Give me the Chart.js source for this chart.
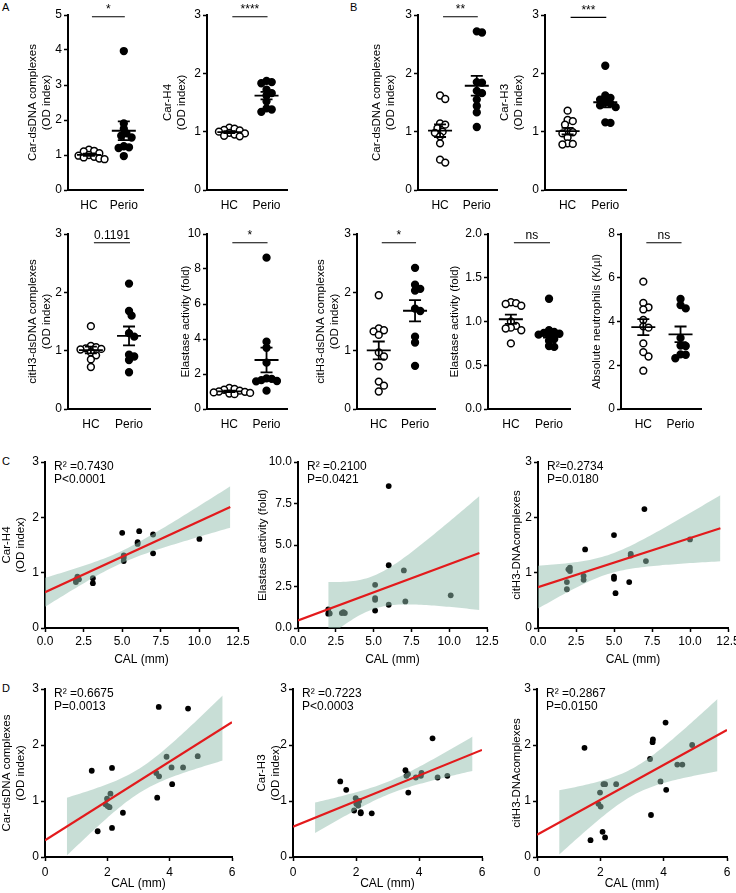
<!DOCTYPE html>
<html lang="en">
<head>
<meta charset="UTF-8">
<title>NET markers in periodontitis</title>
<script src="https://cdn.jsdelivr.net/npm/chart.js@4.4.0/dist/chart.umd.min.js"></script>
<style>
    body { margin: 0; background: #fff; font-family: "Liberation Sans", Arial, sans-serif; }
    #fig { position: relative; width: 736px; height: 893px; overflow: hidden; }
    .tag { position: absolute; font-size: 11px; color: #000; }
</style>
</head>
<body>
<div id="fig">
    <div class="tag" style="left:2px;top:1px">A</div>
    <div class="tag" style="left:350px;top:1px">B</div>
    <div class="tag" style="left:2px;top:455px">C</div>
    <div class="tag" style="left:2px;top:682px">D</div>
</div>
<script>
// ---- data ----
const groupLabels = ['HC', 'Perio'];

// A / B, top row
const aDsdnaHC    = [1.15, 1.12, 1.10, 1.05, 1.00, 0.98, 0.95, 0.93, 0.90, 0.88];
const aDsdnaPerio = [3.97, 1.90, 1.75, 1.62, 1.55, 1.50, 1.25, 1.22, 1.20, 0.97];
const aH4HC       = [1.07, 1.05, 1.03, 1.02, 1.00, 0.98, 0.97, 0.95, 0.93, 0.92];
const aH4Perio    = [1.87, 1.85, 1.83, 1.72, 1.66, 1.62, 1.52, 1.40, 1.38, 1.34];
const bDsdnaHC    = [1.62, 1.56, 1.14, 1.12, 1.06, 1.00, 0.98, 0.92, 0.80, 0.52, 0.47];
const bDsdnaPerio = [2.72, 2.70, 1.85, 1.84, 1.70, 1.66, 1.55, 1.44, 1.33, 1.08];
const bH3HC       = [1.36, 1.20, 1.18, 1.12, 1.00, 0.99, 0.97, 0.90, 0.80, 0.79, 0.78];
const bH3Perio    = [2.13, 1.62, 1.58, 1.55, 1.50, 1.48, 1.45, 1.42, 1.16, 1.15];

// A / B, second row
const aCitH3HC    = [1.42, 1.08, 1.06, 1.04, 1.03, 1.02, 0.97, 0.92, 0.85, 0.72];
const aCitH3Perio = [2.15, 1.68, 1.60, 1.30, 1.24, 0.93, 0.90, 0.84, 0.63];
const aElastHC    = [1.20, 1.15, 1.10, 1.05, 1.00, 0.98, 0.95, 0.92, 0.88, 0.85];
const aElastPerio = [8.65, 3.85, 3.50, 2.65, 1.75, 1.72, 1.65, 1.60, 1.58, 1.05];
const bCitH3HC    = [1.95, 1.38, 1.35, 1.33, 1.27, 0.97, 0.90, 0.73, 0.47, 0.40, 0.30];
const bCitH3Perio = [2.42, 2.13, 2.06, 2.03, 1.72, 1.68, 1.24, 1.14, 0.74];
const bElastHC    = [1.22, 1.21, 1.20, 1.18, 1.00, 0.95, 0.93, 0.92, 0.90, 0.75];
const bElastPerio = [1.26, 0.90, 0.88, 0.87, 0.86, 0.85, 0.84, 0.80, 0.78, 0.72, 0.71];
const bNeutHC     = [5.82, 4.85, 4.65, 4.55, 4.07, 3.78, 3.72, 3.00, 2.60, 2.40, 1.75];
const bNeutPerio  = [5.03, 4.75, 4.60, 3.25, 2.90, 2.88, 2.50, 2.48, 2.32];

// C: correlations with CAL
const calC1   = [5.0, 6.1, 7.0, 6.0, 6.0, 7.0, 10.0, 5.1, 5.1, 5.1, 2.1, 2.0, 2.0, 2.2, 3.1, 3.1];
const carH4C1 = [1.72, 1.75, 1.69, 1.55, 1.52, 1.35, 1.61, 1.31, 1.27, 1.21, 0.93, 0.87, 0.83, 0.88, 0.90, 0.81];
const calC2   = [6.0, 6.0, 7.0, 5.1, 5.1, 5.1, 5.1, 6.0, 7.1, 10.1, 2.0, 2.0, 2.1, 2.9, 3.1, 3.0];
const elastC2 = [8.55, 3.78, 3.47, 2.60, 1.80, 1.70, 1.05, 1.40, 1.60, 1.97, 1.12, 0.86, 0.88, 0.90, 0.90, 0.95];
const calC3   = [7.0, 5.0, 3.1, 6.1, 6.1, 7.1, 10.0, 5.0, 5.0, 6.0, 5.1, 2.1, 2.0, 2.1, 1.9, 1.9, 3.0, 3.0];
const citH3C3 = [2.15, 1.68, 1.42, 1.34, 1.31, 1.21, 1.60, 0.93, 0.89, 0.83, 0.63, 1.09, 1.06, 1.03, 0.83, 0.70, 0.94, 0.87];

// D: correlations with CAL
const calD    = [3.65, 4.59, 1.50, 2.15, 3.90, 4.90, 3.57, 3.66, 4.06, 4.43, 4.08, 3.60, 2.10, 1.99, 1.94, 2.01, 2.07, 2.50, 2.15, 1.69];
const dsdnaD1 = [2.68, 2.65, 1.54, 1.59, 1.79, 1.80, 1.50, 1.44, 1.60, 1.60, 1.30, 1.06, 1.13, 1.04, 0.94, 0.91, 0.89, 0.79, 0.52, 0.46];
const carH3D2 = [1.48, 1.42, 1.35, 0.78, 1.42, 1.45, 1.55, 1.15, 1.45, 2.12, 1.50, 1.45, 1.00, 1.05, 0.83, 0.95, 0.92, 0.78, 0.80, 1.20];
const citH3D3 = [2.05, 1.65, 1.95, 1.30, 1.35, 2.00, 1.75, 2.10, 2.40, 1.65, 1.20, 0.75, 1.30, 1.15, 0.95, 0.90, 0.45, 1.30, 0.35, 0.30];

const calTicksC = [0, 12.5, 2.5];
const calTicksD = [0, 6, 2];
const lineSpanC = [0, 12];
const lineSpanD = [0, 6];

Chart.defaults.font.family = '"Liberation Sans", Arial, sans-serif';
Chart.defaults.color = '#000';

function addCanvas(left, top, width, height) {
    const c = document.createElement('canvas');
    c.width = width;
    c.height = height;
    c.style.cssText = `position:absolute;left:${left}px;top:${top}px;width:${width}px;height:${height}px`;
    document.getElementById('fig').appendChild(c);
    return c;
}

const mean = a => a.reduce((s, v) => s + v, 0) / a.length;

// loose beeswarm: points may touch a little, like the original scatter-dot plots
function swarm(vals, centre, pxY, pxX) {
    const placed = [];
    const xs = new Array(vals.length);
    const idx = vals.map((v, i) => i).sort((a, b) => vals[b] - vals[a]);
    idx.forEach(i => {
        const y = vals[i] * pxY;
        for (let k = 0; k < 40; k++) {
            const off = (k % 2 ? 1 : -1) * Math.ceil(k / 2) * 2.6;
            if (placed.every(p => Math.hypot(p[0] - off, p[1] - y) >= 5.2)) {
                placed.push([off, y]);
                xs[i] = centre + off / pxX;
                break;
            }
        }
    });
    return xs;
}

const meanSemPlugin = {
    id: 'meanSem',
    afterDatasetsDraw(chart, args, opts) {
        const {ctx, scales: {x, y}} = chart;
        ctx.save();
        ctx.strokeStyle = '#000';
        ctx.lineWidth = 1.8;
        opts.groups.forEach((vals, i) => {
            const n = vals.length;
            const m = mean(vals);
            const sem = Math.sqrt(vals.reduce((s, v) => s + (v - m) ** 2, 0) / (n - 1)) / Math.sqrt(n);
            const cx = x.getPixelForValue(i + 1);
            const ym = y.getPixelForValue(m);
            const yt = y.getPixelForValue(m + sem);
            const yb = y.getPixelForValue(m - sem);
            ctx.beginPath();
            ctx.moveTo(cx - 12, ym); ctx.lineTo(cx + 12, ym);
            ctx.moveTo(cx, yt); ctx.lineTo(cx, yb);
            ctx.moveTo(cx - 6, yt); ctx.lineTo(cx + 6, yt);
            ctx.moveTo(cx - 6, yb); ctx.lineTo(cx + 6, yb);
            ctx.stroke();
        });
        // significance bar
        const by = y.getPixelForValue(opts.sigY);
        const x1 = x.getPixelForValue(1) + 3, x2 = x.getPixelForValue(2) + 1;
        ctx.lineWidth = 1.2;
        ctx.beginPath();
        ctx.moveTo(x1, by); ctx.lineTo(x2, by);
        ctx.stroke();
        ctx.fillStyle = '#000';
        ctx.font = '12px "Liberation Sans", Arial, sans-serif';
        ctx.textAlign = 'center';
        ctx.textBaseline = 'bottom';
        ctx.fillText(opts.sig, (x1 + x2) / 2, by - 1);
        ctx.restore();
    }
};

const statsPlugin = {
    id: 'stats',
    afterDraw(chart, args, opts) {
        const {ctx, chartArea} = chart;
        ctx.save();
        ctx.fillStyle = '#000';
        ctx.font = '12px "Liberation Sans", Arial, sans-serif';
        ctx.textAlign = 'left';
        ctx.textBaseline = 'middle';
        opts.lines.forEach((t, i) => ctx.fillText(t, chartArea.left + 9, chartArea.top + 5 + i * 13));
        ctx.restore();
    }
};

function yTitle(text) {
    return {display: true, text: text, font: {size: 11.5, lineHeight: 1.22}, padding: {top: 0, bottom: 0}};
}

function dotPanel(p) {
    const topPad = p.top < 100 ? 15 : 14;
    const bottom = 26, right = 6;
    const cl = p.tx - 7;
    const leftW = p.axis - cl;
    const canvas = addCanvas(cl, p.top - topPad, leftW + p.w + right, topPad + p.h + bottom);
    const xMin = 0.4, xMax = 2.55;
    const pxY = p.h / p.ymax, pxX = p.w / (xMax - xMin);
    const datasets = [p.hc, p.perio].map((vals, g) => {
        const xs = swarm(vals, g + 1, pxY, pxX);
        return {
            data: vals.map((v, i) => ({x: xs[i], y: v})),
            pointRadius: 3.4,
            pointBorderWidth: 1.5,
            pointBorderColor: '#000',
            pointBackgroundColor: g ? '#000' : '#fff',
            clip: false
        };
    });
    new Chart(canvas, {
        type: 'scatter',
        data: {datasets: datasets},
        options: {
            responsive: false, animation: false, devicePixelRatio: 1,
            layout: {padding: {top: topPad, right: right, left: 0, bottom: 0}},
            plugins: {
                legend: {display: false}, tooltip: {enabled: false},
                meanSem: {groups: [p.hc, p.perio], sig: p.sig, sigY: p.sigY}
            },
            scales: {
                x: {
                    type: 'linear', min: xMin, max: xMax,
                    afterBuildTicks: s => { s.ticks = [{value: 1}, {value: 2}]; },
                    afterFit: s => { s.height = bottom; },
                    ticks: {callback: v => groupLabels[Math.round(v) - 1], padding: 8, font: {size: 12}},
                    grid: {display: false, drawTicks: false},
                    border: {color: '#000', width: 2}
                },
                y: {
                    min: 0, max: p.ymax,
                    afterFit: s => { s.width = leftW; },
                    ticks: {stepSize: p.step, padding: 2, font: {size: 12},
                            callback: v => p.step < 1 ? v.toFixed(1) : v},
                    grid: {drawOnChartArea: false, tickLength: 4, tickColor: '#000', tickWidth: 1.5},
                    border: {color: '#000', width: 2},
                    title: yTitle(p.title)
                }
            }
        },
        plugins: [meanSemPlugin]
    });
}

function fit(xs, ys) {
    const n = xs.length, mx = mean(xs), my = mean(ys);
    let sxx = 0, sxy = 0;
    xs.forEach((x, i) => { sxx += (x - mx) ** 2; sxy += (x - mx) * (ys[i] - my); });
    const b = sxy / sxx, a = my - b * mx;
    let sse = 0;
    xs.forEach((x, i) => { sse += (ys[i] - a - b * x) ** 2; });
    const s = Math.sqrt(sse / (n - 2));
    const df = n - 2;
    const t = 1.96 + 2.5 / df + 3 / (df * df);
    return {at: x => a + b * x, half: x => t * s * Math.sqrt(1 / n + (x - mx) ** 2 / sxx)};
}

function corrPanel(p) {
    const topPad = 10, right = 14;
    const cl = p.tx - 7;
    const leftW = p.axis - cl;
    const canvas = addCanvas(cl, p.top - topPad, leftW + p.w + right, topPad + p.h + p.bottom);
    const f = fit(p.xs, p.ys);
    const bx = [];
    for (let i = 0; i <= 60; i++) bx.push(p.band[0] + (p.band[1] - p.band[0]) * i / 60);
    new Chart(canvas, {
        type: 'scatter',
        data: {datasets: [
            {type: 'line', data: p.line.map(x => ({x: x, y: f.at(x)})), borderColor: '#e31a1c',
             borderWidth: 2.2, pointRadius: 0, order: 0},
            {type: 'line', data: bx.map(x => ({x: x, y: f.at(x) + f.half(x)})), borderColor: 'transparent',
             borderWidth: 0, pointRadius: 0, fill: '+1', backgroundColor: 'rgba(145,189,173,0.5)', order: 1},
            {type: 'line', data: bx.map(x => ({x: x, y: f.at(x) - f.half(x)})), borderColor: 'transparent',
             borderWidth: 0, pointRadius: 0, fill: false, order: 1},
            {data: p.xs.map((x, i) => ({x: x, y: p.ys[i]})), pointRadius: 2.9, pointBorderWidth: 0,
             pointBackgroundColor: '#000', order: 2}
        ]},
        options: {
            responsive: false, animation: false, devicePixelRatio: 1,
            layout: {padding: {top: topPad, right: right, left: 0, bottom: 0}},
            plugins: {legend: {display: false}, tooltip: {enabled: false}, stats: {lines: p.stats}},
            scales: {
                x: {
                    type: 'linear', min: p.xt[0], max: p.xt[1],
                    afterFit: s => { s.height = p.bottom; },
                    ticks: {stepSize: p.xt[2], padding: p.xpad, font: {size: 12},
                            callback: v => p.xt[2] % 1 ? v.toFixed(1) : v},
                    grid: {drawOnChartArea: false, tickLength: 4, tickColor: '#000', tickWidth: 1.5},
                    border: {color: '#000', width: 2},
                    title: {display: true, text: 'CAL (mm)', font: {size: 12}, padding: {top: 0, bottom: 1}}
                },
                y: {
                    min: 0, max: p.ymax,
                    afterFit: s => { s.width = leftW; },
                    ticks: {stepSize: p.ystep, padding: 2, font: {size: 12},
                            callback: v => p.ystep % 1 ? v.toFixed(1) : v},
                    grid: {drawOnChartArea: false, tickLength: 4, tickColor: '#000', tickWidth: 1.5},
                    border: {color: '#000', width: 2},
                    title: yTitle(p.title)
                }
            }
        },
        plugins: [statsPlugin]
    });
}

// top row
dotPanel({hc: aDsdnaHC, perio: aDsdnaPerio, title: ['Car-dsDNA complexes', '(OD index)'], ymax: 5, step: 1,
          sig: '*', sigY: 4.95, tx: 33, axis: 68, top: 15, w: 75, h: 175});
dotPanel({hc: aH4HC, perio: aH4Perio, title: ['Car-H4', '(OD index)'], ymax: 3, step: 1,
          sig: '****', sigY: 2.97, tx: 168, axis: 207, top: 15, w: 80, h: 175});
dotPanel({hc: bDsdnaHC, perio: bDsdnaPerio, title: ['Car-dsDNA complexes', '(OD index)'], ymax: 3, step: 1,
          sig: '**', sigY: 2.97, tx: 377, axis: 418, top: 15, w: 79, h: 175});
dotPanel({hc: bH3HC, perio: bH3Perio, title: ['Car-H3', '(OD index)'], ymax: 3, step: 1,
          sig: '***', sigY: 2.96, tx: 505, axis: 545, top: 15, w: 81, h: 175});

// second row
dotPanel({hc: aCitH3HC, perio: aCitH3Perio, title: ['citH3-dsDNA complexes', '(OD index)'], ymax: 3, step: 1,
          sig: '0.1191', sigY: 2.85, tx: 33, axis: 68, top: 234, w: 82, h: 175});
dotPanel({hc: aElastHC, perio: aElastPerio, title: 'Elastase activity (fold)', ymax: 10, step: 2,
          sig: '*', sigY: 9.5, tx: 186, axis: 207, top: 234, w: 80, h: 175});
dotPanel({hc: bCitH3HC, perio: bCitH3Perio, title: ['citH3-dsDNA complexes', '(OD index)'], ymax: 3, step: 1,
          sig: '*', sigY: 2.85, tx: 321, axis: 357, top: 234, w: 78, h: 175});
dotPanel({hc: bElastHC, perio: bElastPerio, title: 'Elastase activity (fold)', ymax: 2, step: 0.5,
          sig: 'ns', sigY: 1.9, tx: 455, axis: 488, top: 234, w: 82, h: 175});
dotPanel({hc: bNeutHC, perio: bNeutPerio, title: 'Absolute neutrophils (K/µl)', ymax: 8, step: 2,
          sig: 'ns', sigY: 7.6, tx: 597, axis: 621, top: 234, w: 80, h: 175});

// C
corrPanel({xs: calC1, ys: carH4C1, title: ['Car-H4', '(OD index)'], ymax: 3, ystep: 1, band: [0, 12],
           stats: ['R² =0.7430', 'P<0.0001'], xt: calTicksC, line: lineSpanC,
           tx: 7, axis: 45, top: 462, w: 193, h: 166, bottom: 40, xpad: 2});
corrPanel({xs: calC2, ys: elastC2, title: 'Elastase activity (fold)', ymax: 10, ystep: 2.5, band: [2, 12],
           stats: ['R² =0.2100', 'P=0.0421'], xt: calTicksC, line: lineSpanC,
           tx: 263, axis: 298, top: 462, w: 189, h: 166, bottom: 40, xpad: 2});
corrPanel({xs: calC3, ys: citH3C3, title: 'citH3-DNAcomplexes', ymax: 3, ystep: 1, band: [0, 12],
           stats: ['R²=0.2734', 'P=0.0180'], xt: calTicksC, line: lineSpanC,
           tx: 517, axis: 538, top: 462, w: 190, h: 166, bottom: 40, xpad: 2});

// D
corrPanel({xs: calD, ys: dsdnaD1, title: ['Car-dsDNA complexes', '(OD index)'], ymax: 3, ystep: 1, band: [0.7, 5.7],
           stats: ['R² =0.6675', 'P=0.0013'], xt: calTicksD, line: lineSpanD,
           tx: 7, axis: 45, top: 689, w: 187, h: 168, bottom: 35, xpad: 4});
corrPanel({xs: calD, ys: carH3D2, title: ['Car-H3', '(OD index)'], ymax: 3, ystep: 1, band: [0.7, 5.7],
           stats: ['R² =0.7223', 'P<0.0003'], xt: calTicksD, line: lineSpanD,
           tx: 262, axis: 293, top: 689, w: 189, h: 168, bottom: 35, xpad: 4});
corrPanel({xs: calD, ys: citH3D3, title: 'citH3-DNAcomplexes', ymax: 3, ystep: 1, band: [0.7, 5.7],
           stats: ['R² =0.2867', 'P=0.0150'], xt: calTicksD, line: lineSpanD,
           tx: 517, axis: 537, top: 689, w: 190, h: 168, bottom: 35, xpad: 4});
</script>
</body>
</html>
